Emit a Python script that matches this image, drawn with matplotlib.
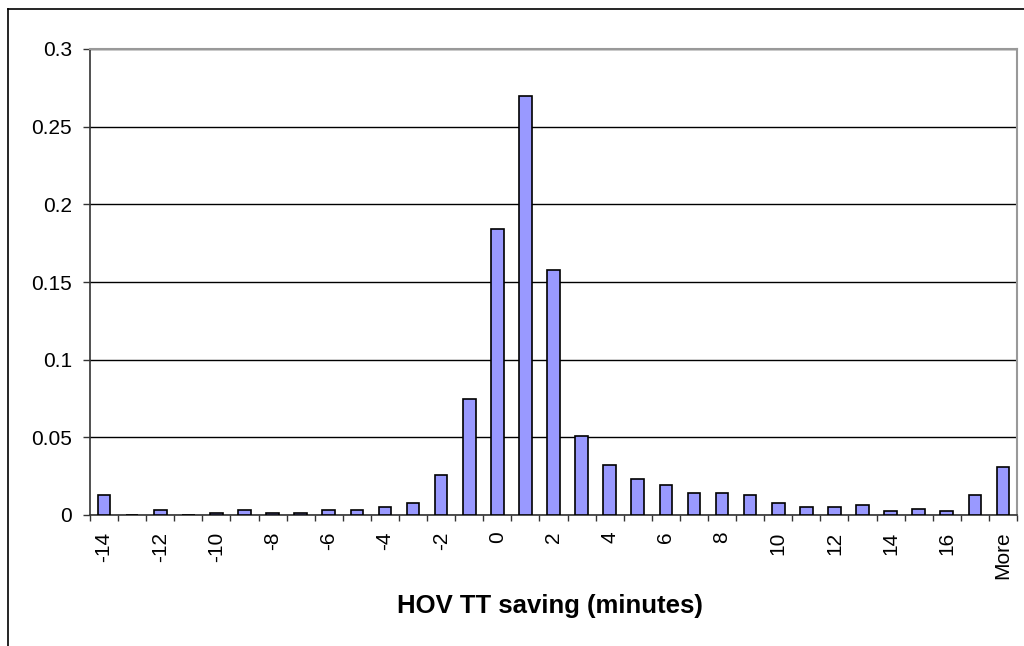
import matplotlib
matplotlib.use("Agg")
import matplotlib.pyplot as plt
from matplotlib.lines import Line2D
import numpy as np

categories = [str(v) for v in range(-14, 18)] + ["More"]
values = [0.013, 0.0, 0.003, 0.0, 0.0015, 0.003, 0.0015, 0.0015, 0.003, 0.003,
          0.0054, 0.008, 0.026, 0.075, 0.184, 0.270, 0.158, 0.051, 0.032, 0.023,
          0.019, 0.0144, 0.0144, 0.0129, 0.008, 0.0052, 0.0052, 0.0064, 0.0028,
          0.0039, 0.0028, 0.0129, 0.0307]
yticks = [0, 0.05, 0.1, 0.15, 0.2, 0.25, 0.3]
ytick_labels = ["0", "0.05", "0.1", "0.15", "0.2", "0.25", "0.3"]
xlabel = "HOV TT saving (minutes)"

plt.rcParams['font.family'] = ['Liberation Sans', 'DejaVu Sans']

W, H = 1024, 646
fig = plt.figure(figsize=(W / 100, H / 100), dpi=100)
left, right, top, bottom = 90, 1017, 49, 515
ax = fig.add_axes([left / W, 1 - bottom / H, (right - left) / W, (bottom - top) / H])

x = np.arange(len(categories))
ax.bar(x, values, width=0.45, color="#9999ff", edgecolor="black", linewidth=1.2, zorder=3)

ax.set_xlim(-0.5, len(categories) - 0.5)
ax.set_ylim(0, 0.3)
ax.set_yticks(yticks)
ax.set_yticklabels(ytick_labels, fontsize=15)
ax.yaxis.grid(True, color="black", linewidth=1.0, zorder=0)
ax.tick_params(axis="y", direction="out", length=5, width=1, color="#333333", pad=8)

ax.set_xticks(x[::2])
ax.set_xticklabels(categories[::2], rotation=90, fontsize=15)
ax.set_xticks(np.arange(-0.5, len(categories)), minor=True)
ax.tick_params(axis="x", which="major", length=0, pad=12)
ax.tick_params(axis="x", which="minor", direction="out", length=4.5, width=1, color="#333333")

for s in ["top", "right"]:
    ax.spines[s].set_color("#999999")
    ax.spines[s].set_linewidth(1.5)
ax.spines["left"].set_color("#333333")
ax.spines["bottom"].set_color("#333333")
ax.spines["left"].set_linewidth(1.2)
ax.spines["bottom"].set_linewidth(1.2)

fig.text(550 / W, 1 - 606 / H, xlabel, ha="center", va="center", fontsize=18.5, fontweight="bold")

# outer chart frame (top and left visible)
fig.add_artist(Line2D([8 / W, 1.0], [1 - 9 / H, 1 - 9 / H], color="black", linewidth=1.2, transform=fig.transFigure))
fig.add_artist(Line2D([8 / W, 8 / W], [1 - 9 / H, 0.0], color="black", linewidth=1.2, transform=fig.transFigure))

fig.savefig("out.png", dpi=100)
